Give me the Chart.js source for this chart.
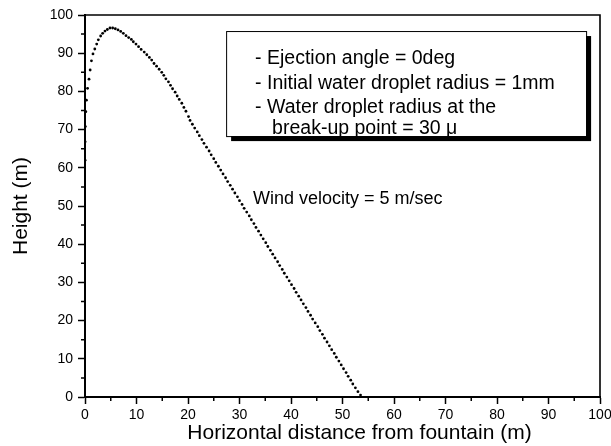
<!DOCTYPE html>
<html>
<head>
<meta charset="utf-8">
<script src="https://cdn.jsdelivr.net/npm/chart.js@4/dist/chart.umd.min.js"></script>
<style>
  html, body { margin: 0; padding: 0; background: #fff; }
  #wrap { width: 611px; height: 446px; }
</style>
</head>
<body>
<div id="wrap"><canvas id="chart"></canvas></div>
<script>
// droplet trajectory (m)
const dropX = [
  0.02, 0.03, 0.07, 0.16, 0.28, 0.5, 0.78, 1.0, 1.25, 1.55, 1.9, 2.27, 2.59, 3.04, 3.43, 3.88, 4.34, 4.85,
  5.37, 5.89, 6.41, 6.93, 7.44, 7.96, 8.48, 9.0, 9.38, 9.9, 10.4, 10.9, 11.5, 12.0, 12.5, 12.95, 13.4, 13.9,
  14.4, 14.9, 15.3, 15.7, 16.2, 16.6, 17.0, 17.5, 17.9, 18.3, 18.8, 19.2, 19.6, 20.1,
  20.4, 20.85, 21.3, 21.8, 22.2, 22.7, 23.1, 23.6, 24.1, 24.5, 25.0, 25.4, 25.9, 26.35, 26.8, 27.3, 27.7,
  28.2, 28.65, 29.1, 29.6, 30.0, 30.5, 30.9, 31.4, 31.9, 32.3, 32.8, 33.2, 33.7, 34.15, 34.6, 35.1, 35.5,
  36.0, 36.45, 36.9, 37.4, 37.8, 38.3, 38.7, 39.2, 39.65, 40.1, 40.6, 41.0, 41.5, 41.95, 42.4, 42.9, 43.3,
  43.8, 44.2, 44.7, 45.2, 45.6, 46.1, 46.5, 47.0, 47.45, 47.9, 48.4, 48.8, 49.3, 49.75, 50.2, 50.7, 51.1,
  51.6, 52.0, 52.5, 53.0, 53.5
];
const dropY = [
  62.0, 66.8, 70.8, 74.7, 77.7, 80.8, 83.2, 85.6, 88.0, 89.8, 91.1, 92.4, 93.5, 94.5, 95.2, 95.8, 96.2, 96.6,
  96.6, 96.4, 96.1, 95.7, 95.2, 94.6, 94.1, 93.6, 93.0, 92.4, 91.7, 91.0, 90.3, 89.6, 88.9, 88.2, 87.3, 86.6,
  85.8, 85.0, 84.2, 83.3, 82.5, 81.6, 80.7, 79.8, 78.8, 77.9, 76.9, 75.8, 74.8, 73.4,
  72.4, 71.4, 70.4, 69.4, 68.4, 67.4, 66.4, 65.4, 64.4, 63.4, 62.4, 61.4, 60.4, 59.4, 58.4, 57.4, 56.4,
  55.4, 54.4, 53.4, 52.4, 51.4, 50.4, 49.4, 48.4, 47.4, 46.4, 45.4, 44.4, 43.4, 42.4, 41.4, 40.4, 39.4,
  38.4, 37.4, 36.4, 35.4, 34.4, 33.4, 32.4, 31.4, 30.4, 29.4, 28.4, 27.4, 26.4, 25.4, 24.4, 23.4, 22.4,
  21.4, 20.4, 19.4, 18.4, 17.4, 16.4, 15.4, 14.4, 13.4, 12.4, 11.4, 10.4, 9.4, 8.4, 7.4, 6.4, 5.4,
  4.4, 3.4, 2.4, 1.4, 0.5
];
const minorTicks = [5, 15, 25, 35, 45, 55, 65, 75, 85, 95];
const noteLines = [
  "- Ejection angle = 0deg",
  "- Initial water droplet radius = 1mm",
  "- Water droplet radius at the",
  "break-up point = 30 \u03bc"
];
const windLabel = "Wind velocity = 5 m/sec";
const xTitle = "Horizontal distance from fountain (m)";
const yTitle = "Height (m)";

const FONT = '"Liberation Sans", Arial, sans-serif';
const points = dropX.map((x, i) => ({ x: x, y: dropY[i] }));

const extras = {
  id: "extras",
  afterDraw(chart) {
    const { ctx, chartArea: a, scales } = chart;
    const sx = scales.x, sy = scales.y;
    ctx.save();
    ctx.strokeStyle = "#000";
    ctx.fillStyle = "#000";

    // top and right frame
    ctx.lineWidth = 1.6;
    ctx.beginPath();
    ctx.moveTo(a.left, a.top);
    ctx.lineTo(a.right, a.top);
    ctx.lineTo(a.right, a.bottom);
    ctx.stroke();

    // minor ticks
    ctx.lineWidth = 1.5;
    ctx.beginPath();
    minorTicks.forEach(v => {
      const px = sx.getPixelForValue(v);
      ctx.moveTo(px, a.bottom);
      ctx.lineTo(px, a.bottom + 4);
      const py = sy.getPixelForValue(v);
      ctx.moveTo(a.left, py);
      ctx.lineTo(a.left - 4, py);
    });
    ctx.stroke();

    // note box with shadow
    const bl = sx.getPixelForValue(27.4), br = sx.getPixelForValue(97.3);
    const bt = sy.getPixelForValue(95.8), bb = sy.getPixelForValue(68.3);
    ctx.fillRect(bl + 5, bt + 5, br - bl, bb - bt);
    ctx.fillStyle = "#fff";
    ctx.fillRect(bl, bt, br - bl, bb - bt);
    ctx.lineWidth = 1;
    ctx.strokeRect(bl + 0.5, bt + 0.5, br - bl, bb - bt);
    ctx.fillStyle = "#000";
    ctx.font = "19.5px " + FONT;
    ctx.textAlign = "left";
    ctx.textBaseline = "alphabetic";
    const base = [33, 57.7, 82.3, 103];
    noteLines.forEach((t, i) => {
      ctx.fillText(t, bl + (i === 3 ? 46 : 29), bt + base[i]);
    });

    // wind label
    ctx.font = "18px " + FONT;
    ctx.fillText(windLabel, sx.getPixelForValue(32.6), sy.getPixelForValue(50.4));

    // axis titles
    ctx.font = "21px " + FONT;
    ctx.textAlign = "center";
    ctx.fillText(xTitle, 359.5, 439);
    ctx.save();
    ctx.translate(27, sy.getPixelForValue(50));
    ctx.rotate(-Math.PI / 2);
    ctx.fillText(yTitle, 0, 0);
    ctx.restore();

    ctx.restore();
  }
};

new Chart(document.getElementById("chart"), {
  type: "scatter",
  data: {
    datasets: [{
      data: points,
      pointRadius: 1.4,
      pointBorderWidth: 0,
      backgroundColor: "#000",
      borderColor: "#000",
      showLine: false
    }]
  },
  options: {
    responsive: true,
    maintainAspectRatio: false,
    animation: false,
    layout: { padding: { left: 0, top: 15, right: 11, bottom: 0 } },
    plugins: { legend: { display: false }, tooltip: { enabled: false } },
    scales: {
      x: {
        type: "linear",
        min: 0,
        max: 100,
        afterFit: s => { s.height = 49; s.paddingRight = 0; s.paddingLeft = 0; },
        border: { color: "#000", width: 2 },
        grid: { drawOnChartArea: false, color: "#000", tickLength: 7, tickWidth: 1.5 },
        ticks: { stepSize: 10, color: "#000", padding: 3, maxRotation: 0, font: { family: FONT, size: 14 } }
      },
      y: {
        type: "linear",
        min: 0,
        max: 100,
        afterFit: s => { s.width = 85; s.paddingTop = 0; s.paddingBottom = 0; },
        border: { color: "#000", width: 2 },
        grid: { drawOnChartArea: false, color: "#000", tickLength: 7, tickWidth: 1.5 },
        ticks: { stepSize: 10, color: "#000", padding: 5, font: { family: FONT, size: 14 } }
      }
    }
  },
  plugins: [extras]
});
</script>
</body>
</html>
